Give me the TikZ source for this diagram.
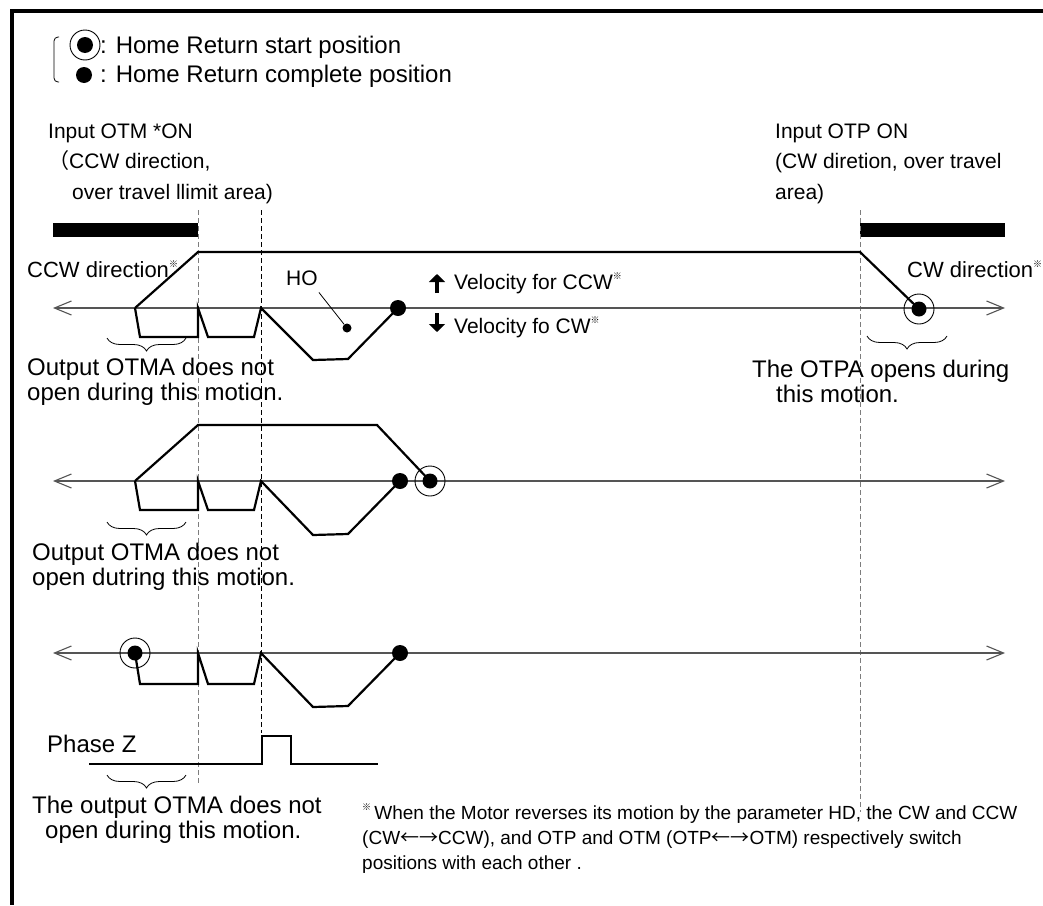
\documentclass[tikz,border=0pt]{standalone}
\usepackage{fontspec}
\setmainfont{Liberation Sans}
\newfontfamily\cjk{Noto Sans CJK JP}
\usetikzlibrary{arrows.meta,positioning,decorations.pathreplacing}
\definecolor{axisgray}{RGB}{85,85,85}
\definecolor{guidegray}{RGB}{125,125,125}
\newcommand{\kome}{\raisebox{0.45em}{\cjk\fontsize{9}{9}\selectfont ※}}

\begin{document}
\begin{tikzpicture}[x=1pt,y=-1pt,
    prof/.style={line width=2.2pt,line join=miter},
    axisline/.style={axisgray,line width=1.1pt,
      {Straight Barb[length=17pt,width=14pt,line width=1.1pt]}-{Straight Barb[length=17pt,width=14pt,line width=1.1pt]}},
    guide/.style={guidegray,line width=0.9pt,dash pattern=on 5pt off 3pt},
    txt/.style={anchor=base west,inner sep=0pt,font=\fontsize{21}{25}\selectfont},
    bigtxt/.style={txt,font=\fontsize{24}{28}\selectfont},
    notetxt/.style={txt,font=\fontsize{19}{23}\selectfont},
    homedot/.style={circle,fill,inner sep=0pt,minimum size=16pt},
    startring/.style={circle,draw,line width=0.9pt,inner sep=0pt,minimum size=30pt},
    startdot/.style={circle,fill,inner sep=0pt,minimum size=15pt},
    motionbrace/.style={decorate,decoration={brace,mirror,amplitude=13pt},line width=0.8pt},
    velarrow/.style={line width=4pt,-{Triangle[length=8pt,width=16pt]}}]
  \fill[white] (0,0) rectangle (1043,905);
  \useasboundingbox (0,0) rectangle (1043,905);

  % frame
  \draw[line width=4pt] (10,11) -- (1043,11);
  \draw[line width=4pt] (12,9) -- (12,905);

  % legend
  \draw[line width=0.8pt,rounded corners=4pt] (59,37) -- (54,37) -- (54,82) -- (59,82);
  \node[startring] (lgring) at (85,45) {};
  \node[startdot,minimum size=16pt] (lgstart) at (lgring) {};
  \node[homedot] (lghome) at (84,75) {};
  \node[bigtxt] (lgstarttxt) at (100,53) {: Home Return start position};
  \node[bigtxt] (lghometxt) at (100,82) {: Home Return complete position};

  % input labels
  \node[txt] (otm1) at (48,138) {Input OTM *ON};
  \node[txt] (otm2) at (48,168) {{\cjk （}CCW direction,};
  \node[txt] (otm3) at (72,199) {over travel llimit area)};
  \node[txt] (otp1) at (775,138) {Input OTP ON};
  \node[txt] (otp2) at (775,168) {(CW diretion, over travel};
  \node[txt] (otp3) at (775,199) {area)};
  \fill (53,223) rectangle (198,237);
  \fill (860,223) rectangle (1005,237);

  % guide lines
  \draw[guide] (198,210) -- (198,785);
  \draw[guide,black] (261,210) -- (261,733);
  \draw[guide] (860,210) -- (860,812);

  % row 1
  \coordinate (r1start) at (919,309);
  \coordinate (r1home) at (398,308);
  \draw[axisline] (53,308) -- (1005,308);
  \draw[prof] (135,308) -- (198,252) -- (860,252) -- (r1start);
  \draw[prof] (135,308) -- (140,337) -- (198,337) -- (198,308) -- (208,337) -- (254,337)
    -- (261,308) -- (313,360) -- (348,359) -- (r1home);
  \node[homedot] (r1h) at (r1home) {};
  \node[startring] (r1ring) at (r1start) {};
  \node[startdot] (r1s) at (r1start) {};
  \node[txt,font=\fontsize{22}{26}\selectfont] (ccwdir) at (27,277) {CCW direction\kome};
  \node[txt,font=\fontsize{22}{26}\selectfont] (cwdir) at (907,277) {CW direction\kome};
  \node[txt] (ho) at (286,285) {HO};
  \node[homedot,minimum size=9pt] (hodot) at (347,328) {};
  \draw[line width=0.8pt] ([xshift=1pt,yshift=-7pt]ho.south east) -- (hodot);
  \node[txt] (velccw) at (454,289) {Velocity for CCW\kome};
  \node[txt] (velcw) at (454,333) {Velocity fo CW\kome};
  \draw[velarrow] (437,293) -- (437,274);
  \draw[velarrow] (437,313) -- (437,332);
  \draw[motionbrace] (107,338) -- (186,338);
  \draw[motionbrace] (867,336) -- (947,336);
  \node[bigtxt] (otma1a) at (27,375) {Output OTMA does not};
  \node[bigtxt] (otma1b) at (27,400) {open during this motion.};
  \node[bigtxt] (otpa1) at (752,377) {The OTPA opens during};
  \node[bigtxt] (otpa2) at (776,402) {this motion.};

  % row 2
  \coordinate (r2start) at (430,481);
  \coordinate (r2home) at (400,481);
  \draw[axisline] (53,481) -- (1005,481);
  \draw[prof] (135,481) -- (198,425) -- (377,425) -- (r2start);
  \draw[prof] (135,481) -- (140,510) -- (198,510) -- (198,481) -- (208,510) -- (254,510)
    -- (261,481) -- (313,535) -- (348,534) -- (r2home);
  \node[homedot] (r2h) at (r2home) {};
  \node[startring] (r2ring) at (r2start) {};
  \node[startdot] (r2s) at (r2start) {};
  \draw[motionbrace] (107,522) -- (186,522);
  \node[bigtxt] (otma2a) at (32,560) {Output OTMA does not};
  \node[bigtxt] (otma2b) at (32,585) {open dutring this motion.};

  % row 3
  \coordinate (r3start) at (135,653);
  \coordinate (r3home) at (400,653);
  \draw[axisline] (53,653) -- (1005,653);
  \draw[prof] (r3start) -- (140,684) -- (198,684) -- (198,653) -- (208,684) -- (254,684)
    -- (261,653) -- (313,707) -- (348,706) -- (r3home);
  \node[homedot] (r3h) at (r3home) {};
  \node[startring] (r3ring) at (r3start) {};
  \node[startdot] (r3s) at (r3start) {};

  % phase Z
  \node[bigtxt] (phz) at (47,752) {Phase Z};
  \draw[line width=2pt] (89,764) -- (262,764) -- (262,736) -- (291,736) -- (291,764) -- (378,764);
  \draw[motionbrace] (107,775) -- (186,775);
  \node[bigtxt] (otma3a) at (32,813) {The output OTMA does not};
  \node[bigtxt] (otma3b) at (45,838) {open during this motion.};

  % note
  \node[notetxt] (note1) at (362,819) {\kome\,When the Motor reverses its motion by the parameter HD, the CW and CCW};
  \node[notetxt] (note2) at (362,844) {(CW{\cjk ←→}CCW), and OTP and OTM (OTP{\cjk ←→}OTM) respectively switch};
  \node[notetxt] (note3) at (362,869) {positions with each other .};
\end{tikzpicture}
\end{document}
